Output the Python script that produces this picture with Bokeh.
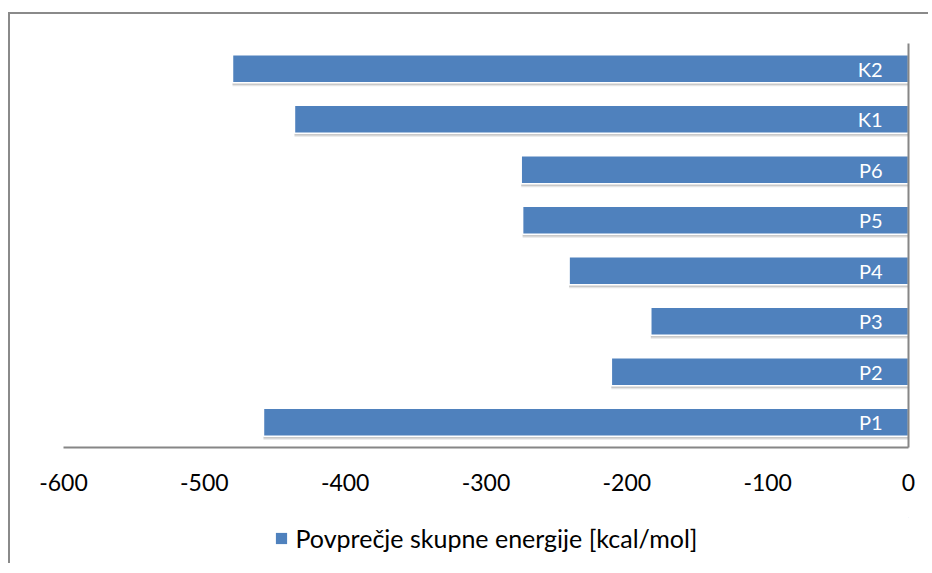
from bokeh.plotting import figure
from bokeh.layouts import column
from bokeh.models import (ColumnDataSource, FactorRange, Range1d, FixedTicker,
                          Legend, LegendItem, CustomJSTickFormatter)
from bokeh.transform import dodge
from bokeh.core.properties import value
from bokeh.embed import file_html
from bokeh.resources import INLINE

# ---- data ----
categories = ["P1", "P2", "P3", "P4", "P5", "P6", "K1", "K2"]
energy = [-458, -211, -183, -241, -274, -275, -436, -480]
x_ticks = [-600, -500, -400, -300, -200, -100, 0]
series_name = "Povprečje skupne energije [kcal/mol]"

BAR = "#4F81BD"
AXIS = "#868686"
FONT = "Lato"

src = ColumnDataSource(dict(cat=categories, val=energy, zero=[0] * len(categories)))

p = figure(width=918, height=503,
           y_range=FactorRange(factors=categories, range_padding=0),
           x_range=Range1d(-600, 0),
           y_axis_location="right",
           output_backend="svg", toolbar_location=None,
           min_border_left=53, min_border_right=20,
           min_border_top=29, min_border_bottom=70)

p.outline_line_color = None
p.xgrid.grid_line_color = None
p.ygrid.grid_line_color = None
p.background_fill_color = "white"
p.border_fill_color = "white"

# drop shadows
p.hbar(y=dodge("cat", -0.07, range=p.y_range), left="val", right="zero",
       height=0.55, source=src, fill_color="#000000", fill_alpha=0.10,
       line_color=None)
p.hbar(y=dodge("cat", -0.045, range=p.y_range), left="val", right="zero",
       height=0.55, source=src, fill_color="#000000", fill_alpha=0.12,
       line_color=None)

bars = p.hbar(y="cat", left="val", right="zero", height=0.55, source=src,
              fill_color=BAR, line_color="white", line_width=1.5)

# category labels inside bars
p.text(x="zero", y="cat", text="cat", source=src, x_offset=-26,
       text_align="right", text_baseline="middle", text_color="white",
       text_font=value(FONT), text_font_size="20px")

# x axis
xa = p.xaxis[0]
xa.ticker = FixedTicker(ticks=x_ticks)
xa.formatter = CustomJSTickFormatter(code="return tick.toFixed(0);")
xa.axis_line_color = AXIS
xa.axis_line_width = 2
xa.major_tick_line_color = None
xa.minor_tick_line_color = None
xa.major_label_text_font = FONT
xa.major_label_text_font_size = "23px"
xa.major_label_text_color = "#000000"
xa.major_label_standoff = 20

# y axis (right, at 0)
ya = p.yaxis[0]
ya.axis_line_color = AXIS
ya.axis_line_width = 2
ya.major_tick_line_color = None
ya.minor_tick_line_color = None
ya.major_label_text_color = None

# ---- legend strip below the chart ----
pl = figure(width=918, height=46, x_range=Range1d(0, 1), y_range=Range1d(0, 1),
            output_backend="svg", toolbar_location=None,
            min_border=0, min_border_left=24, min_border_right=0,
            min_border_top=0, min_border_bottom=4)
pl.axis.visible = False
pl.grid.visible = False
pl.outline_line_color = None
pl.background_fill_color = "white"
pl.border_fill_color = "white"
# legend swatch renderer (its single row lies outside the visible range)
swatch = pl.hbar(y=[5], left=[5], right=[6], height=0.5,
                 fill_color=BAR, line_color=None)

legend = Legend(items=[LegendItem(label=series_name, renderers=[swatch])],
                location="center", orientation="horizontal",
                border_line_color=None, background_fill_alpha=0,
                label_text_font=FONT, label_text_font_size="25px",
                label_text_color="#000000",
                glyph_width=14, glyph_height=14, label_standoff=8,
                margin=0, padding=4)
pl.add_layout(legend)

layout = column(p, pl, spacing=0)
layout.styles = {"margin-top": "12px", "margin-left": "8px",
                 "border-top": "2px solid #8a8a8a",
                 "border-left": "2px solid #8a8a8a"}

open("out.html", "w").write(file_html(layout, INLINE))
